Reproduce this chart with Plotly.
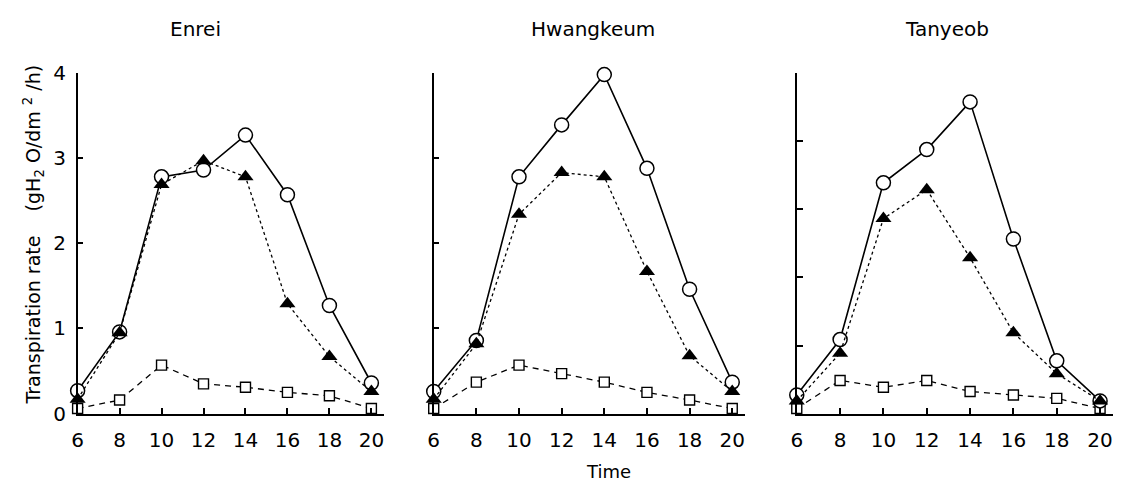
import plotly.graph_objects as go

time = [6, 8, 10, 12, 14, 16, 18, 20]
cultivars = ["Enrei", "Hwangkeum", "Tanyeob"]

# open circles (solid line)
circle_vals = {
    "Enrei":     [0.27, 0.96, 2.78, 2.86, 3.27, 2.57, 1.27, 0.36],
    "Hwangkeum": [0.26, 0.86, 2.78, 3.39, 3.98, 2.88, 1.46, 0.37],
    "Tanyeob":   [0.22, 0.87, 2.71, 3.10, 3.66, 2.05, 0.62, 0.15],
}
# filled triangles (dotted line)
triangle_vals = {
    "Enrei":     [0.17, 0.95, 2.69, 2.97, 2.78, 1.29, 0.67, 0.26],
    "Hwangkeum": [0.17, 0.82, 2.34, 2.83, 2.78, 1.67, 0.68, 0.26],
    "Tanyeob":   [0.15, 0.71, 2.29, 2.63, 1.83, 0.95, 0.47, 0.15],
}
# open squares (dashed line)
square_vals = {
    "Enrei":     [0.06, 0.16, 0.57, 0.35, 0.31, 0.25, 0.21, 0.06],
    "Hwangkeum": [0.06, 0.37, 0.57, 0.47, 0.37, 0.25, 0.16, 0.06],
    "Tanyeob":   [0.06, 0.39, 0.31, 0.39, 0.26, 0.22, 0.18, 0.06],
}

x_ticks = [6, 8, 10, 12, 14, 16, 18, 20]
y_ticks_labeled = [0, 1, 2, 3, 4]
y_ticks_tanyeob = [0, 0.8, 1.6, 2.4, 3.2, 4.0]

W, H = 1126, 498
FONT = "DejaVu Sans"

x_domains_px = [(72, 380), (430, 743), (795, 1113)]
y_dom = [1 - 422 / H, 1 - 64 / H]

fig = go.Figure()

for i, name in enumerate(cultivars):
    ax = "" if i == 0 else str(i + 1)
    xref, yref = "x" + ax, "y" + ax
    fig.add_trace(go.Scatter(
        x=time, y=square_vals[name], xaxis=xref, yaxis=yref, mode="lines+markers",
        line=dict(color="black", width=1.3, dash="6px,5px"),
        marker=dict(symbol="square", size=10, color="white", line=dict(color="black", width=1.4)),
        cliponaxis=False, showlegend=False, hoverinfo="skip"))
    fig.add_trace(go.Scatter(
        x=time, y=circle_vals[name], xaxis=xref, yaxis=yref, mode="lines+markers",
        line=dict(color="black", width=1.6),
        marker=dict(symbol="circle", size=14, color="white", line=dict(color="black", width=1.5)),
        cliponaxis=False, showlegend=False, hoverinfo="skip"))
    fig.add_trace(go.Scatter(
        x=time, y=triangle_vals[name], xaxis=xref, yaxis=yref, mode="lines+markers",
        line=dict(color="black", width=1.3, dash="3px,3px"),
        marker=dict(symbol="triangle-up", size=14, color="black", line=dict(color="black", width=0)),
        cliponaxis=False, showlegend=False, hoverinfo="skip"))

    x0, x1 = x_domains_px[i]
    common = dict(showline=True, linecolor="black", linewidth=1.5, ticks="inside",
                  ticklen=6, tickwidth=1.5, tickcolor="black", showgrid=False, zeroline=False,
                  tickfont=dict(family=FONT, size=20, color="black"))
    fig.layout["xaxis" + ax] = dict(
        domain=[x0 / W, x1 / W], range=[6, 20.6], anchor=yref,
        tickvals=x_ticks, ticktext=[str(t) for t in x_ticks], ticklabelstandoff=8, **common)
    yticks = y_ticks_tanyeob if name == "Tanyeob" else y_ticks_labeled
    fig.layout["yaxis" + ax] = dict(
        domain=y_dom, range=[0, 4], anchor=xref, tickvals=yticks,
        showticklabels=(i == 0), ticktext=[str(t) for t in yticks],
        ticklabelstandoff=6, **common)

annotations = []
title_pos = [191, 590, 946]
for name, xp in zip(cultivars, title_pos):
    annotations.append(dict(text=name, x=xp / W, y=1 - 18 / H, xref="paper", yref="paper",
                            showarrow=False, font=dict(family=FONT, size=20, color="black"),
                            xanchor="center", yanchor="middle"))
annotations.append(dict(text="Time", x=606 / W, y=1 - 483 / H, xref="paper", yref="paper",
                        showarrow=False, font=dict(family=FONT, size=18, color="black"),
                        xanchor="center", yanchor="middle"))
annotations.append(dict(
    text="Transpiration rate&nbsp;&nbsp;&nbsp;&nbsp;(gH<sub>2</sub>&nbsp;O/dm&nbsp;<sup>2</sup>&nbsp;/h)",
    x=28 / W, y=1 - 234 / H, xref="paper", yref="paper", textangle=-90,
    showarrow=False, font=dict(family=FONT, size=19, color="black"),
    xanchor="center", yanchor="middle"))

fig.update_layout(width=W, height=H, margin=dict(l=0, r=0, t=0, b=0),
                  paper_bgcolor="white", plot_bgcolor="white", annotations=annotations,
                  hovermode=False)

fig.write_html("out.html", config={"displayModeBar": False},
               post_script="document.body.style.margin='0px';")
